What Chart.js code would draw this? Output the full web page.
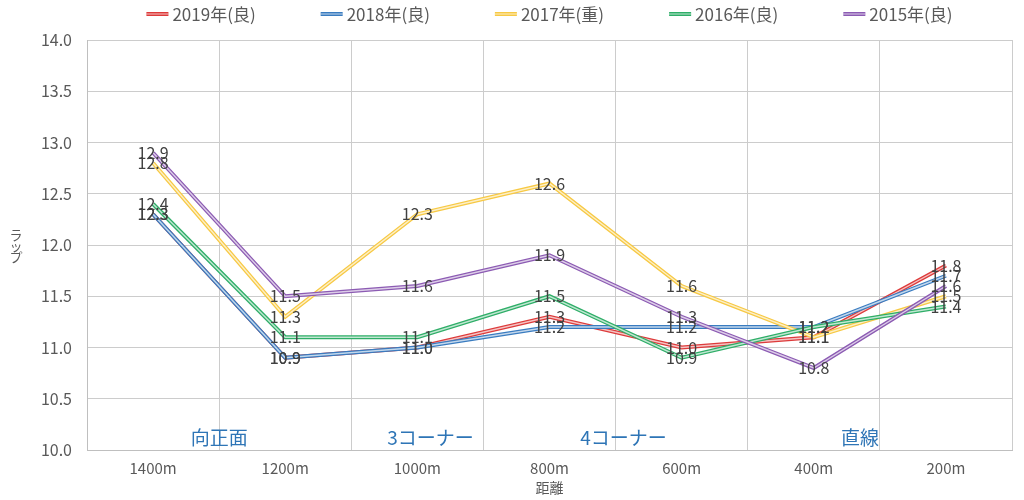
<!DOCTYPE html>
<html>
<head>
<meta charset="utf-8">
<script src="https://cdn.jsdelivr.net/npm/chart.js@4.4.1/dist/chart.umd.min.js"></script>
<style>
  html, body { margin: 0; padding: 0; background: #fff; }
  #wrap { width: 1024px; height: 500px; }
</style>
</head>
<body>
<div id="wrap"><canvas id="lapChart"></canvas></div>
<script>
// 距離ごとのラップ
const distances = ['1400m', '1200m', '1000m', '800m', '600m', '400m', '200m'];
const lap2019 = [12.3, 10.9, 11.0, 11.3, 11.0, 11.1, 11.8];
const lap2018 = [12.3, 10.9, 11.0, 11.2, 11.2, 11.2, 11.7];
const lap2017 = [12.8, 11.3, 12.3, 12.6, 11.6, 11.1, 11.5];
const lap2016 = [12.4, 11.1, 11.1, 11.5, 10.9, 11.2, 11.4];
const lap2015 = [12.9, 11.5, 11.6, 11.9, 11.3, 10.8, 11.6];
const seriesNames = ['2019年(良)', '2018年(良)', '2017年(重)', '2016年(良)', '2015年(良)'];
const seriesColors = ['#dd3b3b', '#3a7cc0', '#f7c944', '#2fae68', '#8c5bb3'];
const yTicks = { min: 10, max: 14, step: 0.5 };
// コース区間の注記 (x はカテゴリ番号)
const sections = [
    { text: '向正面', x: 0.5 },
    { text: '3コーナー', x: 2.1 },
    { text: '4コーナー', x: 3.56 },
    { text: '直線', x: 5.35 }
];

const FONT = "'Noto Sans CJK JP', 'Noto Sans', sans-serif";
const GREY = '#595959';

const allLaps = [lap2019, lap2018, lap2017, lap2016, lap2015];

// 二重線のスタイル
const doubleLine = {
    id: 'doubleLine',
    afterDatasetDraw(chart, args) {
        const pts = args.meta.data;
        const ctx = chart.ctx;
        ctx.save();
        ctx.beginPath();
        pts.forEach((p, i) => i === 0 ? ctx.moveTo(p.x, p.y) : ctx.lineTo(p.x, p.y));
        ctx.strokeStyle = 'rgba(255,255,255,0.7)';
        ctx.lineWidth = 1.4;
        ctx.lineJoin = 'miter';
        ctx.stroke();
        ctx.restore();
    }
};

// 値ラベル・注記・凡例・縦書きタイトル
const extras = {
    id: 'extras',
    afterDatasetsDraw(chart) {
        const ctx = chart.ctx;
        const area = chart.chartArea;
        const xs = chart.scales.x;
        ctx.save();

        // data labels
        ctx.font = '16px ' + FONT;
        ctx.fillStyle = '#404040';
        ctx.textAlign = 'center';
        ctx.textBaseline = 'middle';
        chart.data.datasets.forEach((ds, di) => {
            chart.getDatasetMeta(di).data.forEach((p, i) => {
                ctx.fillText(ds.data[i].toFixed(1), p.x, p.y);
            });
        });

        // section notes
        ctx.font = '19px ' + FONT;
        ctx.fillStyle = '#2e75b6';
        sections.forEach(s => {
            ctx.fillText(s.text, xs.getPixelForValue(s.x), area.bottom - 12);
        });

        // legend
        ctx.font = '17px ' + FONT;
        ctx.textAlign = 'left';
        const mark = 22, gapIn = 4, gapOut = 65;
        const widths = seriesNames.map(n => ctx.measureText(n).width);
        const total = widths.reduce((a, w) => a + mark + gapIn + w, 0) + gapOut * (seriesNames.length - 1);
        let x = (area.left + area.right) / 2 - total / 2;
        const ly = 14;
        seriesNames.forEach((n, i) => {
            ctx.fillStyle = seriesColors[i];
            ctx.fillRect(x, ly - 2, mark, 4);
            ctx.fillStyle = 'rgba(255,255,255,0.7)';
            ctx.fillRect(x, ly - 0.5, mark, 1);
            ctx.fillStyle = GREY;
            ctx.fillText(n, x + mark + gapIn, ly + 1);
            x += mark + gapIn + widths[i] + gapOut;
        });

        // y title, upright characters
        ctx.font = '13px ' + FONT;
        ctx.textAlign = 'center';
        ctx.fillStyle = GREY;
        const yt = ['ラ', 'ッ', 'プ'];
        const cy = (area.top + area.bottom) / 2;
        yt.forEach((c, i) => ctx.fillText(c, 16, cy - 10 + i * 11));
        ctx.restore();
    }
};

new Chart(document.getElementById('lapChart'), {
    type: 'line',
    data: {
        labels: distances,
        datasets: allLaps.map((laps, i) => ({
            label: seriesNames[i],
            data: laps,
            borderColor: seriesColors[i],
            backgroundColor: seriesColors[i],
            borderWidth: 4,
            pointRadius: 0,
            tension: 0,
            order: -i
        }))
    },
    options: {
        responsive: true,
        maintainAspectRatio: false,
        animation: false,
        layout: { padding: { top: 40, right: 12, left: 0, bottom: 0 } },
        plugins: {
            legend: { display: false },
            tooltip: { enabled: false }
        },
        scales: {
            x: {
                offset: true,
                grid: { offset: true, color: '#cccccc', drawTicks: false },
                border: { color: '#bfbfbf' },
                ticks: { color: GREY, font: { family: FONT, size: 15 }, padding: 9 },
                title: { display: true, text: '距離', color: GREY, font: { family: FONT, size: 14 }, padding: { top: 0, bottom: 4 } },
                afterFit(scale) { scale.height = 50; }
            },
            y: {
                min: yTicks.min,
                max: yTicks.max,
                grid: { color: '#cccccc', drawTicks: false },
                border: { color: '#bfbfbf' },
                ticks: {
                    stepSize: yTicks.step,
                    color: GREY,
                    padding: 15,
                    font: { family: FONT, size: 16 },
                    callback: v => v.toFixed(1)
                },
                afterFit(scale) { scale.width = 87; }
            }
        }
    },
    plugins: [doubleLine, extras]
});
</script>
</body>
</html>
